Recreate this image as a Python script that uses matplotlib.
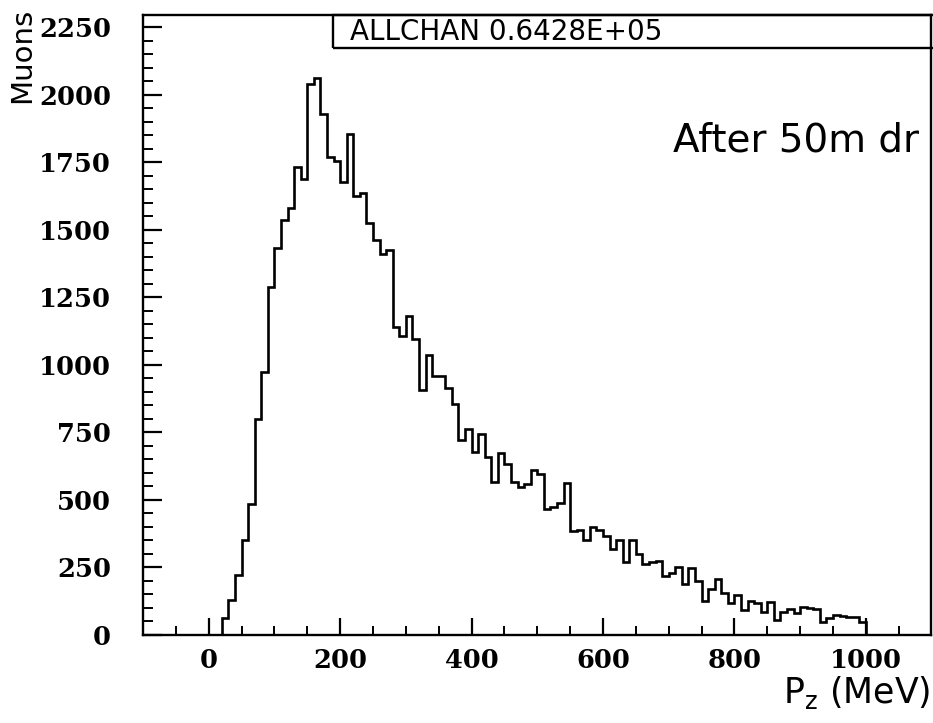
import matplotlib
matplotlib.use("Agg")
import matplotlib.pyplot as plt
import numpy as np
from matplotlib.patches import Rectangle
from matplotlib.ticker import MultipleLocator

# ---- data ----
bin_start = 20          # MeV, left edge of first filled bin
bin_width = 10          # MeV
counts = [
    62, 129, 222, 353, 484, 800, 975, 1287, 1431, 1537,
    1582, 1733, 1687, 2038, 2062, 1930, 1771, 1755, 1675, 1856,
    1625, 1635, 1525, 1463, 1412, 1425, 1139, 1108, 1180, 1096,
    908, 1038, 957, 960, 915, 856, 720, 764, 677, 745,
    658, 566, 672, 634, 568, 546, 560, 612, 597, 468,
    474, 490, 563, 385, 388, 351, 398, 388, 365, 320,
    352, 271, 353, 299, 262, 269, 275, 220, 229, 250,
    188, 248, 200, 125, 172, 209, 157, 117, 148, 92,
    127, 120, 86, 123, 55, 86, 98, 82, 105, 100,
    96, 49, 62, 74, 70, 68, 65, 49,
]
x_ticks = [0, 200, 400, 600, 800, 1000]
x_ticklabels = ["0", "200", "400", "600", "800", "1000"]
y_ticks = [0, 250, 500, 750, 1000, 1250, 1500, 1750, 2000, 2250]
y_ticklabels = ["0", "250", "500", "750", "1000", "1250", "1500", "1750", "2000", "2250"]
x_range = (-100, 1100)
y_range = (0, 2295)
box_text = "ALLCHAN 0.6428E+05"
note_text = "After 50m dr"
x_label = r"P$_{\mathrm{z}}$ (MeV)"
y_label = "Muons"

W, H = 933, 723
fig = plt.figure(figsize=(W / 100, H / 100), dpi=100)
fig.patch.set_facecolor("white")

def fx(px):
    return px / W

def fy(py):
    return 1 - py / H

ax_left, ax_right, ax_top, ax_bottom = 143, 931.5, 15, 635
ax = fig.add_axes([fx(ax_left), fy(ax_bottom), fx(ax_right - ax_left), (ax_bottom - ax_top) / H])

edges = bin_start + bin_width * np.arange(len(counts) + 1)
ax.stairs(counts, edges, baseline=0, color="black", lw=1.9)

ax.set_xlim(*x_range)
ax.set_ylim(*y_range)

for s in ax.spines.values():
    s.set_linewidth(1.7)
    s.set_color("black")

ax.set_xticks(x_ticks)
ax.set_xticklabels(x_ticklabels, fontfamily="DejaVu Serif", fontweight="bold", fontsize=18.5)
ax.set_yticks(y_ticks)
ax.set_yticklabels(y_ticklabels, fontfamily="DejaVu Serif", fontweight="bold", fontsize=18.5)
ax.xaxis.set_minor_locator(MultipleLocator(50))
ax.yaxis.set_minor_locator(MultipleLocator(50))

ax.tick_params(axis="both", which="both", direction="in", top=False, right=False, color="black")
ax.tick_params(axis="y", which="major", length=14, width=1.6, pad=23)
ax.tick_params(axis="y", which="minor", length=7, width=1.4)
ax.tick_params(axis="x", which="major", length=12, width=1.6, pad=9)
ax.tick_params(axis="x", which="minor", length=6.5, width=1.4)

# Y-axis title, rotated, in the top-left corner
fig.text(fx(22), fy(55), y_label, rotation=90, ha="center", va="center",
         fontsize=21, fontfamily="DejaVu Sans")

# X-axis title, bottom right
fig.text(fx(930), fy(703), x_label, ha="right", va="baseline",
         fontsize=25, fontfamily="DejaVu Sans")

# statistics box at the top
fig.add_artist(Rectangle((fx(333), fy(48)), fx(945 - 333), (48 - 15) / H,
                         transform=fig.transFigure, fill=False, lw=1.7,
                         edgecolor="black", clip_on=True))
fig.text(fx(350), fy(32), box_text, ha="left", va="center",
         fontsize=20, fontfamily="DejaVu Sans")

# annotation inside the plot
fig.text(fx(673), fy(152), note_text, ha="left", va="baseline",
         fontsize=28, fontfamily="DejaVu Sans")

fig.savefig("out.png", dpi=100)
